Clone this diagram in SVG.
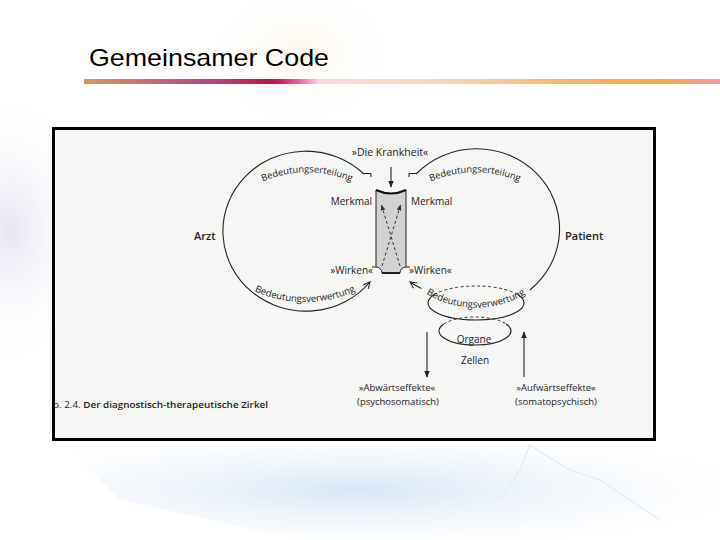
<svg xmlns="http://www.w3.org/2000/svg" width="720" height="540" viewBox="0 0 720 540">
  <defs>
    <linearGradient id="bar" x1="84" y1="0" x2="720" y2="0" gradientUnits="userSpaceOnUse">
      <stop offset="0" stop-color="#d8985a"/>
      <stop offset="0.08" stop-color="#c37a6e"/>
      <stop offset="0.18" stop-color="#b84c84"/>
      <stop offset="0.30" stop-color="#c2124c"/>
      <stop offset="0.335" stop-color="#e85a98"/>
      <stop offset="0.37" stop-color="#f6d6e2"/>
      <stop offset="0.55" stop-color="#f8d6bc"/>
      <stop offset="0.80" stop-color="#f2b45c"/>
      <stop offset="0.93" stop-color="#f0a850"/>
      <stop offset="1" stop-color="#f49aac"/>
    </linearGradient>
    <radialGradient id="blueGlow" cx="0.45" cy="0.5" r="0.6">
      <stop offset="0" stop-color="#c6dcf2" stop-opacity="0.7"/>
      <stop offset="1" stop-color="#e8f0f8" stop-opacity="0"/>
    </radialGradient>
    <radialGradient id="leftGlow" cx="0.5" cy="0.5" r="0.5">
      <stop offset="0" stop-color="#e2def0" stop-opacity="0.8"/>
      <stop offset="1" stop-color="#ffffff" stop-opacity="0"/>
    </radialGradient>
    <radialGradient id="topGlow" cx="0.5" cy="0.4" r="0.5">
      <stop offset="0" stop-color="#fcf4e4" stop-opacity="0.7"/>
      <stop offset="1" stop-color="#ffffff" stop-opacity="0"/>
    </radialGradient>
    <marker id="open" viewBox="0 0 10 10" refX="9" refY="5" markerWidth="8" markerHeight="8" orient="auto" markerUnits="userSpaceOnUse">
      <path d="M1,1 L9,5 L1,9" fill="none" stroke="#222" stroke-width="1.3"/>
    </marker>
    <marker id="solid" viewBox="0 0 10 10" refX="9" refY="5" markerWidth="7" markerHeight="7" orient="auto" markerUnits="userSpaceOnUse">
      <path d="M0,1 L10,5 L0,9 z" fill="#222"/>
    </marker>
    <marker id="dsolid" viewBox="0 0 10 10" refX="9" refY="5" markerWidth="6" markerHeight="6" orient="auto" markerUnits="userSpaceOnUse">
      <path d="M0,1 L10,5 L0,9 z" fill="#333"/>
    </marker>
    <path id="tpLT" d="M252,187 A110,110 0 0 1 362,187"/>
    <path id="tpRT" d="M420,187 A110,110 0 0 1 530,187"/>
    <path id="tpLB" d="M243,285.4 A124,124 0 0 0 367,285.4"/>
    <path id="tpRB" d="M420,289.6 A96,96 0 0 0 532,289.6"/>
  </defs>
  <style>
    .lbl { font-family: "Open Sans", "Noto Sans", "DejaVu Sans", sans-serif; fill: #222; }
    .ln { fill: none; stroke: #222; stroke-width: 1.1; }
    .dash { fill: none; stroke: #333; stroke-width: 1; stroke-dasharray: 3 2.5; }
  </style>

  <!-- slide background -->
  <rect x="0" y="0" width="720" height="540" fill="#ffffff"/>
  <ellipse cx="10" cy="230" rx="90" ry="140" fill="url(#leftGlow)"/>
  <ellipse cx="300" cy="70" rx="100" ry="80" fill="url(#topGlow)"/>
  <polygon points="60,440 720,440 720,540 300,540 120,500" fill="url(#blueGlow)"/>
  <polyline points="500,500 520,470 530,445 545,455 570,470 600,480 630,500 660,520" fill="none" stroke="#e0ebf5" stroke-width="1.2"/>

  <!-- title -->
  <text x="89" y="66" font-family="Liberation Sans, Arial, sans-serif" font-size="24" fill="#000" textLength="240" lengthAdjust="spacingAndGlyphs">Gemeinsamer Code</text>
  <rect x="84" y="79" width="636" height="5" fill="url(#bar)"/>

  <!-- figure frame -->
  <rect x="53.5" y="128.5" width="601" height="311" fill="#f6f6f4" stroke="#000" stroke-width="3"/>

  <g id="column">
    <path d="M376,190 Q391,197 406,190 L406,267 A6,6 0 0 0 400,273 L382,273 A6,6 0 0 0 376,267 Z" fill="#d2d2d2" stroke="#222" stroke-width="1"/>
    <path d="M376,190 Q391,197 406,190" fill="none" stroke="#111" stroke-width="2"/>
    <line x1="382" y1="273" x2="400" y2="273" stroke="#111" stroke-width="1.8"/>
    <path class="ln" d="M372,267 H376 M406,267 H410"/>
  </g>

  <g id="connectors">
    <!-- left circle: Arzt -->
    <path class="ln" d="M364,174 A83,80 0 1 0 370,282" marker-end="url(#open)"/>
    <path class="ln" d="M364,173.5 H371 M371,173.5 V177"/>
    <!-- right circle: Patient -->
    <path class="ln" d="M416,174 A83,80 0 1 1 529.9,290"/>
    <path class="ln" d="M421.5,288.5 A83,80 0 0 1 410,282" marker-end="url(#open)"/>
    <path class="ln" d="M416,173.5 H409 M409,173.5 V177"/>
    <!-- arrow into column -->
    <line class="ln" x1="391" y1="167" x2="391" y2="187" marker-end="url(#solid)"/>
    <!-- dashed X -->
    <line class="dash" x1="400" y1="266" x2="381.5" y2="205" marker-end="url(#dsolid)"/>
    <line class="dash" x1="382" y1="266" x2="400.5" y2="205" marker-end="url(#dsolid)"/>
    <!-- down/up effects -->
    <line class="ln" x1="427" y1="332" x2="427" y2="377" marker-end="url(#solid)"/>
    <line class="ln" x1="524" y1="377" x2="524" y2="332" marker-end="url(#solid)"/>
  </g>

  <g id="ellipse-upper">
    <path class="ln" d="M517.6,294.5 A48,17 0 1 1 434.4,294.5"/>
    <path class="dash" d="M434.4,294.5 A48,17 0 0 1 517.6,294.5"/>
  </g>
  <g id="ellipse-organe">
    <path class="ln" d="M506.2,324 A36,14 0 1 1 443.8,324"/>
    <path class="dash" d="M443.8,324 A36,14 0 0 1 506.2,324"/>
  </g>

  <g id="label-krankheit"><text class="lbl" x="390" y="156" font-size="10.5" text-anchor="middle">»Die Krankheit«</text></g>
  <g id="label-merkmal-l"><text class="lbl" x="372" y="205" font-size="10" text-anchor="end">Merkmal</text></g>
  <g id="label-merkmal-r"><text class="lbl" x="411" y="205" font-size="10">Merkmal</text></g>
  <g id="label-wirken-l"><text class="lbl" x="373" y="274" font-size="10" text-anchor="end">»Wirken«</text></g>
  <g id="label-wirken-r"><text class="lbl" x="409" y="274" font-size="10">»Wirken«</text></g>
  <g id="node-arzt"><text class="lbl" x="194" y="240" font-size="11" font-weight="600">Arzt</text></g>
  <g id="node-patient"><text class="lbl" x="565" y="240" font-size="11" font-weight="600">Patient</text></g>

  <g id="label-erteilung-l"><text class="lbl" font-size="9.3"><textPath href="#tpLT" startOffset="50%" text-anchor="middle">Bedeutungserteilung</textPath></text></g>
  <g id="label-erteilung-r"><text class="lbl" font-size="9.3"><textPath href="#tpRT" startOffset="50%" text-anchor="middle">Bedeutungserteilung</textPath></text></g>
  <g id="label-verwertung-l"><text class="lbl" font-size="9.5"><textPath href="#tpLB" startOffset="50%" text-anchor="middle">Bedeutungsverwertung</textPath></text></g>
  <g id="label-verwertung-r"><text class="lbl" font-size="9.5"><textPath href="#tpRB" startOffset="50%" text-anchor="middle">Bedeutungsverwertung</textPath></text></g>

  <g id="label-organe"><text class="lbl" x="474" y="343" font-size="10" text-anchor="middle">Organe</text></g>
  <g id="label-zellen"><text class="lbl" x="475" y="364" font-size="10" text-anchor="middle">Zellen</text></g>

  <g id="label-abwaerts">
    <text class="lbl" x="397" y="391" font-size="9.5" text-anchor="middle">»Abwärtseffekte«</text>
    <text class="lbl" x="398" y="405" font-size="9.5" text-anchor="middle">(psychosomatisch)</text>
  </g>
  <g id="label-aufwaerts">
    <text class="lbl" x="556" y="391" font-size="9.5" text-anchor="middle">»Aufwärtseffekte«</text>
    <text class="lbl" x="556" y="405" font-size="9.5" text-anchor="middle">(somatopsychisch)</text>
  </g>

  <g id="caption">
    <text class="lbl" x="53" y="408" font-size="9.5" textLength="215" lengthAdjust="spacingAndGlyphs">b. 2.4. <tspan font-weight="600">Der diagnostisch-therapeutische Zirkel</tspan></text>
  </g>
</svg>
